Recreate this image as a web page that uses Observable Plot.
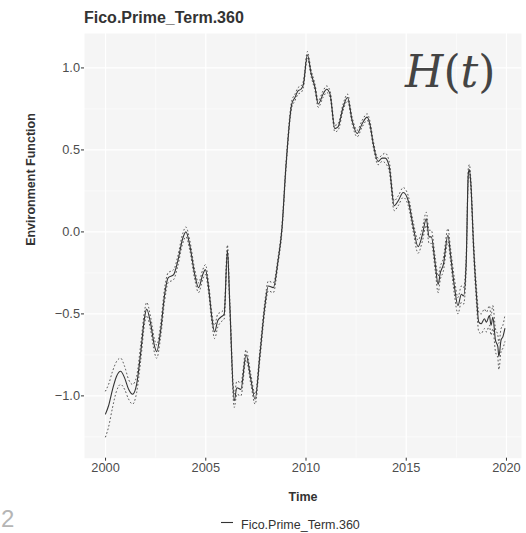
<!DOCTYPE html>
<html>
<head>
<meta charset="utf-8">
<script src="https://cdn.jsdelivr.net/npm/d3@7"></script>
<script src="https://cdn.jsdelivr.net/npm/@observablehq/plot@0.6"></script>
<style>
  body { margin: 0; background: #fff; font-family: "Liberation Sans", Arial, sans-serif; }
  #wrap { position: relative; width: 526px; height: 533px; overflow: hidden; background: #fff; }
  #title { position: absolute; left: 84px; top: 10px; font-size: 16px; line-height: 16px; font-weight: bold; color: #333; white-space: nowrap; }
  #chart { position: absolute; left: 0; top: 28px; }
  #ht { position: absolute; left: 405px; top: 50px; font-family: "DejaVu Serif", serif; font-size: 44px; line-height: 44px; color: #444; white-space: nowrap; }
  #legend { position: absolute; left: 220px; top: 519px; font-size: 12.5px; line-height: 12.5px; color: #333; white-space: nowrap; }
  #legend svg { vertical-align: top; margin-right: 7px; }
  #corner { position: absolute; left: 1px; top: 507px; font-size: 24px; line-height: 24px; color: #b5b5b5; }
</style>
</head>
<body>
<div id="wrap">
  <div id="title">Fico.Prime_Term.360</div>
  <div id="chart"></div>
  <div id="ht"><i>H</i>(<i>t</i>)</div>
  <div id="legend"><svg width="14" height="8"><line x1="1" x2="13" y1="3.5" y2="3.5" stroke="#333" stroke-width="1.1"/></svg>Fico.Prime_Term.360</div>
  <div id="corner">2</div>
</div>
<script>
// Estimated environment function H(t) for Fico.Prime_Term.360
const time = [
  2000.00, 2000.15, 2000.35, 2000.55, 2000.75, 2000.95, 2001.15, 2001.35, 2001.55, 2001.75,
  2001.95, 2002.05, 2002.25, 2002.45, 2002.55, 2002.75, 2002.95, 2003.12, 2003.40, 2003.60,
  2003.85, 2004.01, 2004.20, 2004.45, 2004.64, 2004.85, 2004.98, 2005.15, 2005.30, 2005.44,
  2005.60, 2005.75, 2005.92, 2006.08, 2006.20, 2006.42, 2006.55, 2006.75, 2007.01, 2007.25,
  2007.46, 2007.70, 2007.95, 2008.12, 2008.37, 2008.60, 2008.80, 2009.00, 2009.29, 2009.45,
  2009.60, 2009.75, 2009.87, 2010.07, 2010.25, 2010.45, 2010.61, 2010.85, 2011.03, 2011.20,
  2011.44, 2011.60, 2011.85, 2012.07, 2012.30, 2012.55, 2012.80, 2013.05, 2013.20, 2013.35,
  2013.60, 2013.80, 2013.95, 2014.15, 2014.40, 2014.60, 2014.85, 2015.10, 2015.35, 2015.59,
  2015.80, 2016.00, 2016.14, 2016.25, 2016.45, 2016.59, 2016.70, 2016.85, 2017.08, 2017.21,
  2017.40, 2017.58, 2017.75, 2017.86, 2017.99, 2018.10, 2018.15, 2018.22, 2018.36, 2018.50,
  2018.62, 2018.74, 2018.90, 2019.00, 2019.15, 2019.23, 2019.32, 2019.45, 2019.57, 2019.62,
  2019.73, 2019.82, 2019.92
];
const value = [
  -1.11, -1.06, -0.96, -0.88, -0.85, -0.89, -0.96, -0.99, -0.93, -0.74,
  -0.52, -0.47, -0.56, -0.70, -0.73, -0.60, -0.38, -0.28, -0.26, -0.18,
  -0.04, 0.00, -0.08, -0.26, -0.34, -0.26, -0.23, -0.35, -0.52, -0.61,
  -0.54, -0.52, -0.50, -0.11, -0.45, -1.03, -0.95, -0.96, -0.75, -0.90,
  -1.02, -0.75, -0.45, -0.33, -0.34, -0.18, 0.02, 0.40, 0.78, 0.82,
  0.86, 0.87, 0.90, 1.08, 0.97, 0.88, 0.78, 0.84, 0.87, 0.84,
  0.63, 0.64, 0.76, 0.82, 0.68, 0.60, 0.66, 0.70, 0.65, 0.54,
  0.43, 0.45, 0.45, 0.40, 0.16, 0.19, 0.24, 0.19, 0.03, -0.09,
  -0.02, 0.08, -0.03, -0.03, -0.20, -0.32, -0.25, -0.20, -0.02, -0.14,
  -0.33, -0.45, -0.38, -0.39, -0.19, 0.36, 0.38, 0.30, -0.09, -0.38,
  -0.55, -0.56, -0.53, -0.55, -0.51, -0.57, -0.52, -0.66, -0.70, -0.76,
  -0.66, -0.64, -0.59
];
// half-width of the dotted confidence band around H(t)
const band = [
  0.14, 0.13, 0.11, 0.09, 0.08, 0.07, 0.06, 0.06, 0.05, 0.05,
  0.04, 0.04, 0.04, 0.04, 0.04, 0.04, 0.04, 0.03, 0.03, 0.03,
  0.03, 0.03, 0.03, 0.03, 0.03, 0.03, 0.03, 0.03, 0.03, 0.04,
  0.04, 0.03, 0.03, 0.03, 0.03, 0.04, 0.04, 0.04, 0.03, 0.03,
  0.03, 0.03, 0.03, 0.03, 0.03, 0.02, 0.02, 0.02, 0.02, 0.02,
  0.02, 0.02, 0.02, 0.02, 0.02, 0.02, 0.02, 0.02, 0.02, 0.02,
  0.02, 0.02, 0.02, 0.02, 0.02, 0.02, 0.02, 0.02, 0.02, 0.02,
  0.02, 0.02, 0.03, 0.03, 0.03, 0.03, 0.03, 0.03, 0.03, 0.04,
  0.04, 0.04, 0.04, 0.04, 0.04, 0.05, 0.04, 0.04, 0.04, 0.04,
  0.05, 0.05, 0.05, 0.05, 0.04, 0.03, 0.03, 0.03, 0.04, 0.05,
  0.06, 0.06, 0.06, 0.06, 0.06, 0.06, 0.07, 0.07, 0.07, 0.08,
  0.07, 0.07, 0.08
];
const xTicks = [2000, 2005, 2010, 2015, 2020];
const xMinor = [2002.5, 2007.5, 2012.5, 2017.5];
const yTicks = [-1.0, -0.5, 0.0, 0.5, 1.0];
const yMinor = [-1.25, -0.75, -0.25, 0.25, 0.75];

const rows = time.map((t, i) => ({t, v: value[i], lo: value[i] - band[i], hi: value[i] + band[i]}));

const chart = Plot.plot({
  width: 526,
  height: 482,
  marginLeft: 84,
  marginRight: 5,
  marginTop: 5,
  marginBottom: 52.3,
  x: {domain: [1998.95, 2020.75]},
  y: {domain: [-1.38, 1.21]},
  style: {fontFamily: "'Liberation Sans', Arial, sans-serif", background: "transparent", overflow: "visible"},
  marks: [
    Plot.frame({fill: "#f5f5f5", stroke: "none"}),
    Plot.ruleX(xMinor, {stroke: "#fff", strokeWidth: 0.6}),
    Plot.ruleY(yMinor, {stroke: "#fff", strokeWidth: 0.6}),
    Plot.ruleX(xTicks, {stroke: "#fff", strokeWidth: 1.2}),
    Plot.ruleY(yTicks, {stroke: "#fff", strokeWidth: 1.2}),
    Plot.line(rows, {x: "t", y: "hi", curve: "monotone-x", stroke: "#333", strokeWidth: 0.9, strokeDasharray: "0.8,3"}),
    Plot.line(rows, {x: "t", y: "lo", curve: "monotone-x", stroke: "#333", strokeWidth: 0.9, strokeDasharray: "0.8,3"}),
    Plot.line(rows, {x: "t", y: "v", curve: "monotone-x", stroke: "#333", strokeWidth: 1.1}),
    Plot.axisX(xTicks, {tickSize: 3, tickPadding: 2, fontSize: 12.8, fill: "#4d4d4d", stroke: "#333", label: null, tickFormat: d => String(d)}),
    Plot.axisY(yTicks, {tickSize: 3, tickPadding: 1.5, fontSize: 12.8, fill: "#4d4d4d", stroke: "#333", label: null, tickFormat: d3.format(".1f")}),
    Plot.text(["Time"], {frameAnchor: "bottom", dy: 38.5, text: d => d, fontWeight: "bold", fontSize: 12.5, fill: "#333", lineAnchor: "middle"}),
    Plot.text(["Environment Function"], {frameAnchor: "left", dx: -54, rotate: -90, text: d => d, fontWeight: "bold", fontSize: 12.5, fill: "#333", lineAnchor: "middle"})
  ]
});
document.getElementById("chart").appendChild(chart);
</script>
</body>
</html>
